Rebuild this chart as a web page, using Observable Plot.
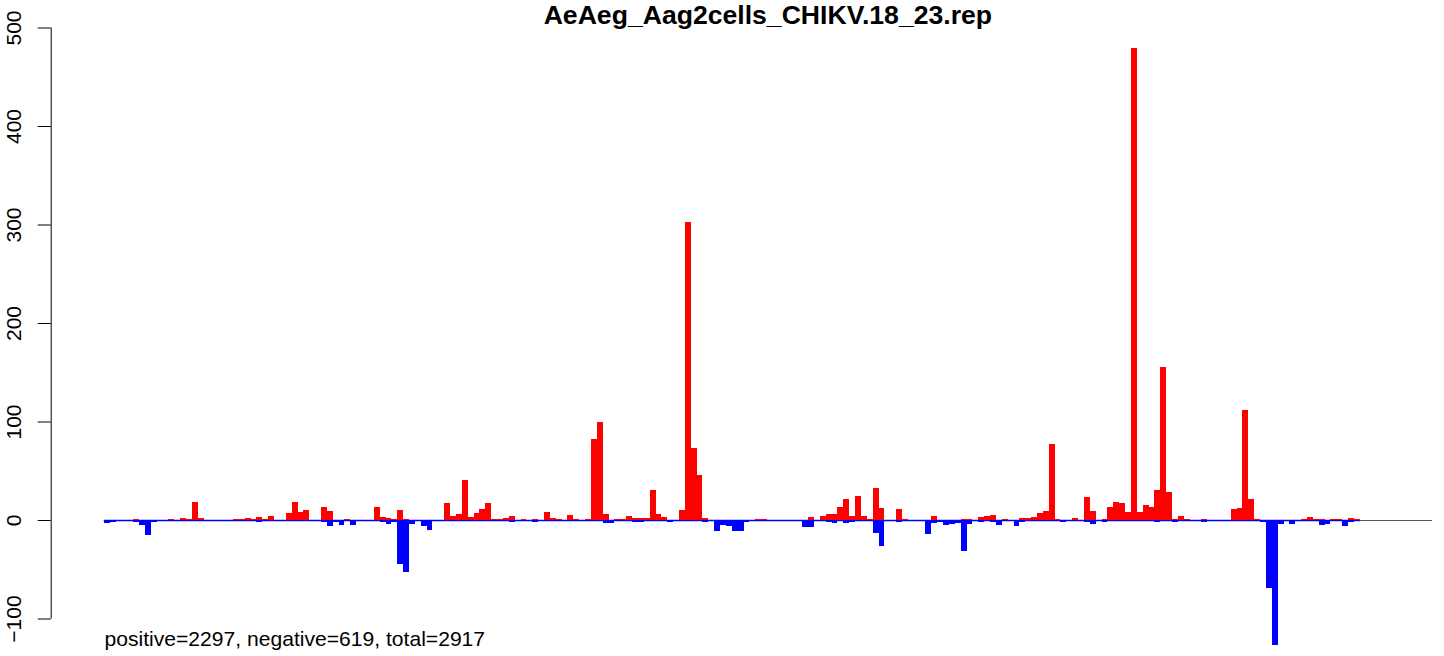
<!DOCTYPE html>
<html><head><meta charset="utf-8">
<script src="https://cdn.jsdelivr.net/npm/d3@7"></script>
<script src="https://cdn.jsdelivr.net/npm/@observablehq/plot@0.6"></script>
<style>html,body{margin:0;padding:0;background:#fff}svg{display:block}</style>
</head><body><div id="chart"></div>
<script>
const title = "AeAeg_Aag2cells_CHIKV.18_23.rep";
const caption = "positive=2297, negative=619, total=2917";
const genomeBins = 226.3;
const yTicks = [-100, 0, 100, 200, 300, 400, 500];
const yTickLabels = ["\u2212100", "0", "100", "200", "300", "400", "500"];

const positive = [
  0,0,0,0,0,1,0,0,0,0,
  0,1,0,2,1,18,2,0,0,0,
  0,0,1,1,2,1,3,1,4,0,
  0,7,18,8,10,0,0,13,9,0,
  0,1,0,0,0,0,13,3,2,1,
  10,1,0,0,0,0,0,0,17,4,
  6,41,3,7,11,17,1,1,2,4,
  0,1,0,1,0,8,2,1,0,5,
  1,0,1,82,100,6,0,1,1,4,
  2,2,2,30,6,3,0,0,10,303,
  73,46,2,0,0,0,0,0,0,0,
  0,1,1,0,0,0,0,0,0,0,
  3,0,4,6,6,13,21,4,24,4,
  1,32,12,0,0,11,1,0,0,0,
  0,4,0,0,0,0,1,1,0,3,
  4,5,0,1,0,0,2,2,3,7,
  9,77,1,0,0,2,0,23,9,0,
  1,13,18,17,8,479,8,15,13,30,
  155,28,1,4,1,0,0,1,0,0,
  0,0,11,12,112,21,1,0,0,0,
  0,0,0,0,1,3,1,1,0,1,
  1,0,2,1
];
const negative = [
  -3,-2,0,0,0,-2,-5,-15,-2,0,
  0,0,0,0,-1,0,0,0,0,0,
  0,0,0,0,0,0,-2,0,0,0,
  0,0,0,0,0,0,0,-2,-6,-2,
  -5,0,-5,0,0,0,0,-2,-4,-2,
  -45,-53,-4,0,-6,-10,0,0,0,0,
  0,0,0,0,0,0,0,0,0,-2,
  0,0,0,-2,0,0,0,0,0,0,
  0,0,0,0,0,-3,-3,0,0,0,
  -2,-2,0,0,0,0,-2,0,0,0,
  0,0,-2,0,-11,-5,-6,-11,-11,-2,
  0,0,0,0,0,0,0,0,0,-7,
  -7,0,0,-2,-3,0,-3,-2,0,0,
  0,-13,-26,0,0,-2,0,0,0,0,
  -14,-3,-2,-5,-4,-3,-31,-4,0,-2,
  0,-2,-5,0,0,-6,-2,0,0,0,
  0,0,0,-2,0,0,0,-2,-4,0,
  -2,0,-1,0,0,-1,0,0,-1,-2,
  0,0,-2,0,0,0,0,-2,0,0,
  0,0,0,0,0,0,0,-2,-69,-127,
  -4,0,-4,0,0,0,0,-5,-4,0,
  0,-6,-2,0
];

const rows = positive.map((p, i) => ({bin: i, pos: p, neg: negative[i]}));
const xDomain = [-0.04 * genomeBins, genomeBins];

const chart = Plot.plot({
  width: 1444,
  height: 656,
  marginLeft: 50.7,
  marginRight: 12,
  marginTop: 27.5,
  marginBottom: 37.5,
  x: {domain: xDomain, axis: null},
  y: {domain: [-100, 500], axis: null},
  style: {fontFamily: "'Liberation Sans', Arial, Helvetica, sans-serif", background: "#fff", color: "#000"},
  marks: [
    Plot.ruleY([0], {x1: 0, x2: genomeBins, stroke: "#555", strokeWidth: 1}),
    Plot.ruleY([0], {x1: 0, x2: positive.length, stroke: "blue", strokeWidth: 1.5}),
    Plot.rectY(rows.filter(d => d.pos > 0), {x1: "bin", x2: d => d.bin + 1, y: "pos", fill: "red", shapeRendering: "crispEdges"}),
    Plot.rectY(rows.filter(d => d.neg < 0), {x1: "bin", x2: d => d.bin + 1, y: "neg", fill: "blue", shapeRendering: "crispEdges"}),
    Plot.ruleX([xDomain[0]], {y1: yTicks[0], y2: yTicks[yTicks.length - 1], stroke: "#000", strokeWidth: 1}),
    Plot.axisY({ticks: yTicks, tickSize: 13, tickFormat: () => "", label: null, stroke: "#000"}),
    Plot.text(yTicks, {y: d => d, text: (d, i) => yTickLabels[i], frameAnchor: "left", dx: -30.2, rotate: -90, textAnchor: "middle", lineAnchor: "bottom", fontSize: 21, fill: "#000"}),
    Plot.text([title], {frameAnchor: "top", dx: 26, dy: -4.5, lineAnchor: "bottom", fontSize: 26.6, fontWeight: "bold", fill: "#000"}),
    Plot.text([caption], {frameAnchor: "bottom-left", dx: 53.3, dy: 26.5, lineAnchor: "bottom", textAnchor: "start", fontSize: 21.1, fill: "#000"})
  ]
});
document.getElementById("chart").append(chart);
</script>
</body></html>
